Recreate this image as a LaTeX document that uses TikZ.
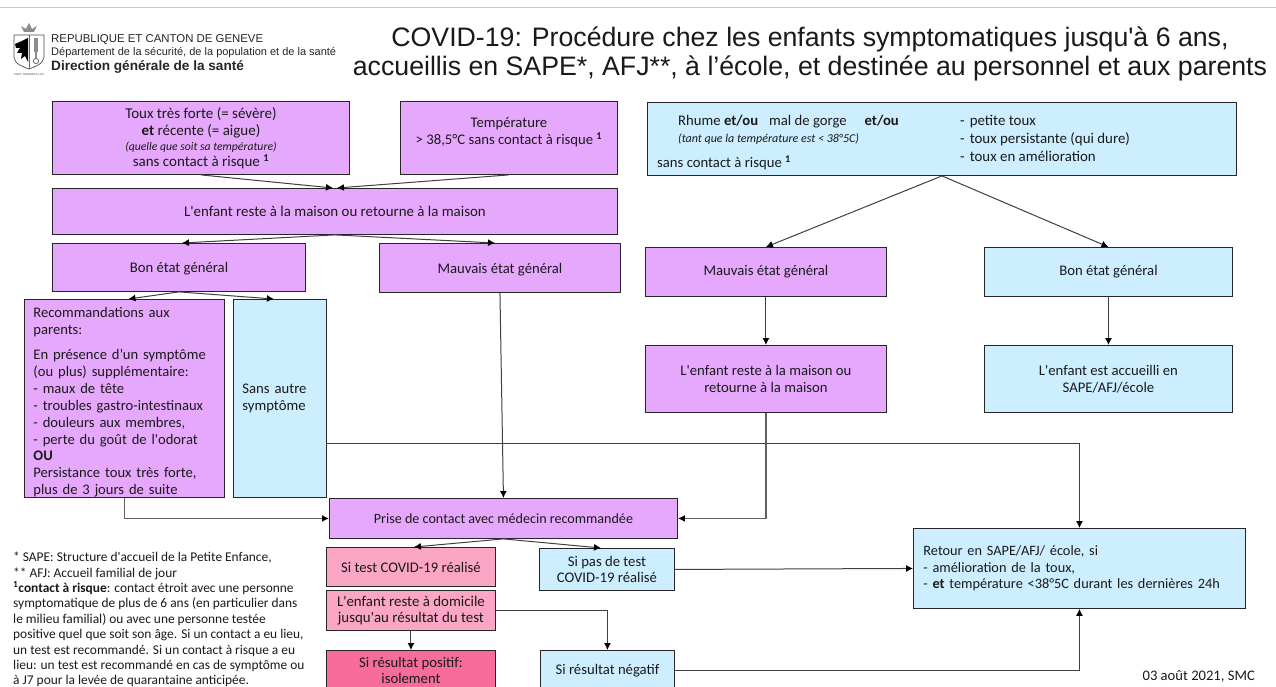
\documentclass[tikz,border=0pt]{standalone}
\usepackage{fontspec}
\setmainfont{Carlito}
\newfontfamily\carlf{Carlito}
\AtBeginDocument{\carlf}
\newfontfamily\arialf{Liberation Sans}
\usetikzlibrary{arrows.meta}
\definecolor{cpur}{HTML}{E6A8FD}
\definecolor{cblu}{HTML}{CCEEFF}
\definecolor{cpnk}{HTML}{FAA6C4}
\definecolor{cpos}{HTML}{F76C9B}
\definecolor{ctxt}{HTML}{1A1A1A}
\definecolor{cline}{HTML}{404040}
\tikzset{
  x=1pt,y=-1pt,
  basebox/.style={draw=black!85,line width=.9pt,anchor=north west,inner sep=0pt,align=center,text=ctxt,font=\carlf\fontsize{14.7}{16.6}\selectfont},
  purbox/.style={basebox,fill=cpur},
  blubox/.style={basebox,fill=cblu},
  pnkbox/.style={basebox,fill=cpnk},
  posbox/.style={basebox,fill=cpos},
  txt/.style={anchor=west,inner sep=0pt,text=ctxt,font=\carlf\fontsize{14.9}{16.6}\selectfont},
  conn/.style={draw=cline,line width=1pt,-{Latex[length=7pt,width=7pt,black]}},
  conh/.style={conn,draw=black!62,line width=1.5pt},
  headtxt/.style={anchor=west,inner sep=0pt,text=black!85,font=\arialf\fontsize{11}{12}\selectfont},
}
\begin{document}
\begin{tikzpicture}
\useasboundingbox (0,0) rectangle (1276,687);
\clip (0,0) rectangle (1276,687);
\fill[white] (0,0) rectangle (1276,687);
\draw[black!22,line width=.9pt] (0,7.5) -- (1276,7.5);
% crest
\fill[black!45] (24,32) -- (21,26) -- (26,29) -- (29,23) -- (32,29) -- (37,26) -- (34,32) -- cycle;
\draw[black!70,line width=.7pt] (14,35) -- (44,35) -- (44,57) .. controls (44,64) and (34,67) .. (29,69) .. controls (24,67) and (14,64) .. (14,57) -- cycle;
\fill[black] (28,38) -- (22,41) -- (15,44) -- (16,48) -- (20,48) -- (17,53) -- (22,53) -- (21,59) -- (25,56) -- (28,62) -- cycle;
\fill[black!45] (34,38) rectangle (38,52);
\fill[black!45] (35,52) rectangle (37,58);
\draw[black!55,line width=.9pt] (36,61) circle (2.6);
\draw[black!60,line width=.5pt] (29,35) -- (29,69);
\node[anchor=center,inner sep=0pt,font=\arialf\fontsize{2.8}{3}\selectfont,text=black!70] (devise) at (29,74.5) {POST TENEBRAS LUX};
% header
\node[headtxt,font=\arialf\fontsize{11.4}{12}\selectfont] (h1) at (51,39.5) {REPUBLIQUE ET CANTON DE GENEVE};
\node[headtxt] (h2) at (51,53) {Département de la sécurité, de la population et de la santé};
\node[headtxt,font=\arialf\bfseries\fontsize{13.6}{14}\selectfont] (h3) at (51,67) {Direction générale de la santé};
\node[anchor=center,inner sep=0pt,align=center,text=black!90,font=\arialf\fontsize{26.7}{29}\selectfont] (title) at (810,54) {COVID-19: Procédure chez les enfants symptomatiques jusqu'à 6 ans,\\accueillis en SAPE*, AFJ**, à l’école, et destinée au personnel et aux parents};
% left column
\node[purbox,minimum width=297pt,minimum height=73pt,font=\carlf\fontsize{15}{16.6}\selectfont] (toux) at (52,101) {Toux très forte (= sévère)\\[.5pt]\textbf{et} récente (= aigue)\\[-1pt]{\fontsize{11.7}{14}\selectfont\itshape (quelle que soit sa température)}\\[-1pt]sans contact à risque \textsuperscript{\textbf{1}}};
\node[purbox,minimum width=217pt,minimum height=73pt] (temp) at (400,101) {Température\\> 38,5°C sans contact à risque \textsuperscript{\textbf{1}}\\[-8pt]\strut};
\node[purbox,minimum width=565pt,minimum height=46pt,font=\carlf\fontsize{14.9}{16.6}\selectfont] (maison) at (52,188) {L'enfant reste à la maison ou retourne à la maison};
\node[purbox,minimum width=253pt,minimum height=48pt] (bon) at (52,243) {\rule{0pt}{13pt}Bon état général};
\node[purbox,minimum width=241pt,minimum height=49pt] (mauv) at (379,243) {\rule{0pt}{14pt}Mauvais état général};
\node[purbox,minimum height=198pt,text width=182pt,inner xsep=9pt,align=left,font=\carlf\fontsize{14.6}{16.9}\selectfont] (reco) at (24,299) {\rule{0pt}{18pt}Recommandations aux\\parents:\\[8pt]En présence d’un symptôme\\(ou plus) supplémentaire:\\- maux de tête\\- troubles gastro-intestinaux\\- douleurs aux membres,\\- perte du goût de l'odorat\\\textbf{OU}\\Persistance toux très forte,\\plus de 3 jours de suite};
\node[blubox,minimum height=198pt,text width=75pt,inner xsep=9pt,align=left] (sans) at (233,299) {Sans autre\\symptôme};
\node[purbox,minimum width=348pt,minimum height=40pt,font=\carlf\fontsize{14.1}{16.6}\selectfont] (prise) at (329,498) {Prise de contact avec médecin recommandée};
\node[pnkbox,minimum width=169pt,minimum height=39pt] (sitest) at (326,547) {Si test COVID-19 réalisé};
\node[pnkbox,minimum width=169pt,minimum height=40pt,font=\carlf\fontsize{14.9}{16.6}\selectfont] (domi) at (326,590) {L'enfant reste à domicile\\jusqu'au résultat du test};
\node[posbox,minimum width=169pt,minimum height=40pt] (posi) at (326,650) {Si résultat positif:\\isolement};
\node[blubox,minimum width=135pt,minimum height=42pt] (pas) at (539,548) {Si pas de test\\COVID-19 réalisé};
\node[blubox,minimum width=134pt,minimum height=40pt] (nega) at (540,650) {Si résultat négatif};
% right column
\node[blubox,minimum width=589pt,minimum height=73pt] (rhume) at (647,102) {};
\node[txt,font=\carlf\fontsize{14.7}{16.6}\selectfont] (r1) at (678,122) {Rhume \textbf{et/ou}\hspace{11pt}mal de gorge\hspace{18pt}\textbf{et/ou}};
\node[txt,font=\carlf\fontsize{12}{13}\selectfont\itshape] (r2) at (678,139) {(tant que la température est < 38°5C)};
\node[txt,font=\carlf\fontsize{14.7}{16.6}\selectfont] (r3) at (657,163) {sans contact à risque \textsuperscript{\textbf{1}}};
\node[txt] (r4) at (960,122) {-\hspace{5pt}petite toux};
\node[txt] (r5) at (960,139) {-\hspace{5pt}toux persistante (qui dure)};
\node[txt] (r6) at (960,156) {-\hspace{5pt}toux en amélioration};
\node[purbox,minimum width=241pt,minimum height=49pt] (mauvr) at (645,247) {Mauvais état général};
\node[blubox,minimum width=248pt,minimum height=49pt] (bonr) at (984,247) {Bon état général};
\node[purbox,minimum width=241pt,minimum height=67pt] (enfr) at (645,345) {L'enfant reste à la maison ou\\retourne à la maison};
\node[blubox,minimum width=248pt,minimum height=67pt] (acc) at (984,345) {L'enfant est accueilli en\\SAPE/AFJ/école};
\node[blubox,minimum width=332pt,minimum height=80pt,text width=312pt,inner xsep=10pt,align=left,font=\carlf\fontsize{14.3}{16.6}\selectfont] (retour) at (913,528) {Retour en SAPE/AFJ/ école, si\\- amélioration de la toux,\\- \textbf{et} température <38°5C durant les dernières 24h};
% footnotes
\node[anchor=north west,inner sep=0pt,align=left,text=ctxt,font=\carlf\fontsize{13.4}{15.4}\selectfont] (notes) at (13,552) {* SAPE: Structure d'accueil de la Petite Enfance,\\** AFJ: Accueil familial de jour\\\textsuperscript{\textbf{1}}\textbf{contact à risque}: contact étroit avec une personne\\symptomatique de plus de 6 ans (en particulier dans\\le milieu familial) ou avec une personne testée\\positive quel que soit son âge. Si un contact a eu lieu,\\un test est recommandé. Si un contact à risque a eu\\lieu: un test est recommandé en cas de symptôme ou\\à J7 pour la levée de quarantaine anticipée.};
\node[anchor=east,inner sep=0pt,text=ctxt,font=\carlf\fontsize{14.6}{16}\selectfont] (date) at (1255,676) {03 août 2021, SMC};
% connectors
\draw[conn] (toux.south) -- ([xshift=-2pt]maison.north);
\draw[conn] (temp.south) -- ([xshift=2pt]maison.north);
\draw[conn] (maison.south) -- ([xshift=3pt]bon.north);
\draw[conn] (maison.south) -- ([xshift=-5pt]mauv.north);
\draw[conn] (bon.south) -- ([xshift=4pt]reco.north);
\draw[conn] (bon.south) -- ([xshift=-6pt]sans.north);
\draw[conn] (mauv.south) -- (prise.north);
\draw[conh] (reco.south) |- (prise.west);
\draw[conh] (enfr.south) |- (prise.east);
\draw[conn] (prise.south) -- ([xshift=3pt]sitest.north);
\draw[conn] (prise.south) -- ([xshift=-6pt]pas.north);
\draw[conn] (domi.south) -- (posi.north);
\draw[conn] (domi.east) -| (nega.north);
\draw[conn] (pas.east) -- (retour.west);
\draw[conn] (nega.east) -| (retour.south);
\draw[conn] ([yshift=-45pt]sans.east) -| (retour.north);
\draw[conn] (rhume.south) -- (mauvr.north);
\draw[conn] (rhume.south) -- (bonr.north);
\draw[conn] (mauvr.south) -- (enfr.north);
\draw[conn] (bonr.south) -- (acc.north);
\end{tikzpicture}
\end{document}
